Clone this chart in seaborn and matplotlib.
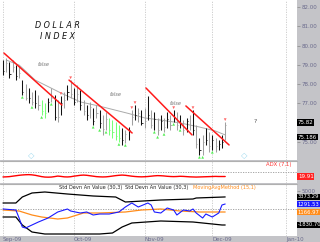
import numpy as np
import pandas as pd
import matplotlib
matplotlib.use("Agg")
import matplotlib.pyplot as plt
import seaborn as sns

sns.set_theme(style="white")
plt.rcParams['font.family'] = ['DejaVu Sans']

# ---------------- data ----------------
dates = pd.bdate_range("2009-09-01", "2009-12-07")
highs = [79.25, 79.35, 79.15, 79.25, 78.99, 78.94, 78.21, 78.01, 77.80, 77.59,
         77.70, 77.44, 77.18, 77.02, 77.28, 77.80, 77.44, 77.18, 77.39, 77.59,
         77.96, 78.21, 77.80, 77.96, 77.70, 77.18, 76.92, 77.08, 76.77, 76.92,
         76.66, 76.40, 76.56, 76.25, 76.14, 76.04, 75.89, 75.73, 75.63, 75.78,
         76.66, 76.92, 76.77, 76.66, 76.77, 77.39, 76.66, 76.56, 76.25, 76.40,
         76.25, 76.56, 76.40, 76.66, 76.56, 76.40, 76.14, 76.25, 76.40, 76.66,
         75.89, 75.21, 75.37, 75.73, 75.52, 75.37, 75.21, 75.11, 75.37, 76.04]
lows = [78.47, 78.63, 78.32, 78.63, 78.21, 78.32, 77.44, 77.18, 77.02, 76.92,
        76.77, 76.66, 76.40, 76.25, 76.56, 77.08, 76.14, 76.04, 76.40, 76.77,
        77.18, 77.28, 76.92, 77.08, 76.66, 76.40, 76.14, 76.25, 75.89, 76.25,
        75.73, 75.37, 75.63, 75.37, 75.21, 75.11, 75.00, 74.85, 74.95, 75.11,
        75.89, 76.14, 76.04, 75.89, 75.73, 76.14, 75.73, 75.63, 75.37, 75.63,
        75.52, 75.73, 75.63, 76.04, 75.63, 75.73, 75.37, 75.52, 75.63, 75.37,
        74.69, 74.33, 74.33, 74.85, 74.49, 74.59, 74.49, 74.59, 74.69, 75.11]
closes = [78.70, 79.10, 78.50, 78.90, 78.40, 78.60, 77.60, 77.30, 77.30, 77.10,
          77.00, 76.90, 76.60, 76.50, 77.10, 77.30, 76.30, 76.30, 77.00, 77.20,
          77.60, 77.50, 77.10, 77.50, 76.90, 76.60, 76.40, 76.80, 76.10, 76.50,
          76.00, 75.70, 76.20, 75.60, 75.50, 75.30, 75.20, 75.10, 75.40, 75.60,
          76.30, 76.40, 76.50, 76.00, 76.10, 76.40, 75.90, 76.20, 75.60, 76.10,
          75.80, 76.20, 75.90, 76.30, 75.90, 76.00, 75.60, 76.10, 75.90, 75.60,
          74.90, 74.60, 75.00, 75.10, 74.80, 75.10, 74.80, 74.90, 75.00, 75.90]
bar_kind = (["k", "g"] * 6 + ["l", "l"] + ["k", "g"] * 8 + ["k", "g", "g", "l", "l", "l", "l"]
            + ["k", "g"] * 14 + ["k", "g", "k", "k", "g", "k", "g", "g", "k", "k", "k", "g", "k", "k"])
bar_kind = bar_kind[:70]

ma_idx = [1, 5, 10, 18, 24, 30, 39, 44, 49, 55, 61, 66, 69]
ma_val = [79.25, 78.99, 78.21, 77.54, 77.08, 76.86, 76.48, 76.25, 76.14, 75.99, 75.78, 75.57, 75.37]

trend_x0 = [0.3, 20.5, 44.4, 56.8]
trend_y0 = [79.61, 78.21, 77.80, 76.87]
trend_x1 = [18.3, 40.1, 58.7, 70.2]
trend_y1 = [76.92, 75.47, 75.37, 74.85]

up_arrows = [6, 9, 12, 15, 28, 30, 32, 36, 38, 47, 48, 50, 53, 55, 61, 62, 65]
down_arrows = [18, 21, 40, 41, 53, 59, 69]

false_x = [10.9, 33.2, 51.9]
false_y = [79.04, 77.44, 77.02]

adx = [19.5, 19.6, 19.8, 20.2, 20.6, 21.0, 21.3, 21.5, 21.6, 21.4, 21.0, 20.4, 19.8,
       19.4, 19.3, 19.4, 19.8, 20.3, 20.0, 19.6, 19.5, 19.7, 20.2, 20.6, 21.0, 21.2,
       21.0, 20.6, 20.2, 19.8, 19.6, 19.5, 19.6, 19.9, 20.3, 20.7, 21.0, 21.2, 21.0,
       20.6, 20.2, 19.9, 19.7, 19.6, 19.7, 19.9, 20.2, 20.5, 20.7, 20.6, 20.4, 20.1,
       19.9, 19.8, 19.9, 20.1, 20.0, 19.8, 19.6, 19.5, 19.4, 19.5, 19.6, 19.7, 19.8,
       19.9, 20.0, 19.9, 19.9, 19.9]

upper_idx = [0, 4, 6, 9, 13, 20, 28, 35, 38, 49, 59, 60, 69]
upper_band = [1680, 1680, 3360, 4480, 4760, 4200, 3640, 3360, 1960, 2520, 2800, 3080, 3373]
lower_idx = [0, 4, 6, 9, 13, 20, 30, 34, 37, 40, 49, 59, 68, 69]
lower_band = [-2240, -2240, -4480, -6440, -7000, -7000, -7000, -6720, -5040, -3920, -3360, -3640, -4480, -4480]
orange_idx = [0, 5, 9, 12, 17, 20, 25, 30, 38, 43, 49, 55, 61, 69]
orange_val = [-280, -560, -1680, -2240, -2800, -2520, -1120, -1120, -840, -280, 0, -560, -840, -840]
blue_idx = [0, 4, 5, 6, 7, 9, 11, 14, 17, 19, 20, 21, 24, 26, 28, 30, 33, 36, 38, 40, 42, 45,
            46, 47, 49, 51, 53, 54, 56, 58, 59, 60, 62, 63, 65, 67, 68, 69]
blue_val = [0, -280, -2520, -5040, -5320, -4480, -3640, -2520, -840, -280, 0, -560, -1120, -840,
            -1680, -1400, -1400, -840, 560, 1680, 560, 1680, 1120, -840, -1120, 280, -280, -1680,
            -280, -560, 0, -1120, -2520, -1400, -2240, -1120, 1120, 1400]

month_pos = [0, 22, 44, 65, 88]
month_lab = ["Sep-09", "Oct-09", "Nov-09", "Dec-09", "Jan-10"]
price_ticks = [75, 77, 78, 79, 80, 81, 82]

# ---------------- layout ----------------
W, H = 320, 242
fig = plt.figure(figsize=(W / 100, H / 100), dpi=100, facecolor="#c4c4c8")

def rect(x0, y0, x1, y1):
    return [x0 / W, 1 - y1 / H, (x1 - x0) / W, (y1 - y0) / H]

XMIN, XMAX = -0.93, 91.3
ax = fig.add_axes(rect(0, 0, 297, 160))
ax2 = fig.add_axes(rect(0, 161, 297, 183))
ax3 = fig.add_axes(rect(0, 184, 297, 236))
tick_col = "#6a6a8c"
for a in (ax, ax2, ax3):
    a.set_facecolor("white")
    a.set_xlim(XMIN, XMAX)
    for s in a.spines.values():
        s.set_visible(False)
    a.set_xticks([])
    for p in month_pos:
        a.axvline(p, color="#c8c8c8", lw=0.6, ls=(0, (1.5, 1.5)), zorder=0)
    a.tick_params(axis="y", which="both", right=True, left=False, labelright=True, labelleft=False,
                  length=2, width=0.5, color="#888888", labelsize=4, labelcolor=tick_col, pad=1)

# ---------------- price panel ----------------
ax.set_ylim(74.07, 82.36)
ax.set_yticks(price_ticks)
ax.set_yticklabels([f"{v:.2f}" for v in price_ticks])
x = np.arange(len(highs))
col_map = {"k": "#111111", "g": "#a0a0a0", "l": "#77ff77"}
cols = [col_map[k] for k in bar_kind]
ax.vlines(x, lows, highs, colors=cols, lw=0.75, zorder=3)
ax.hlines(closes, x, x + 0.35, colors=cols, lw=0.6, zorder=3)

df_ma = pd.DataFrame({"x": ma_idx, "y": ma_val})
sns.lineplot(data=df_ma, x="x", y="y", ax=ax, color="#aaaaaa", lw=0.7, zorder=2)
for a0, b0, a1, b1 in zip(trend_x0, trend_y0, trend_x1, trend_y1):
    ax.plot([a0, a1], [b0, b1], color="#ff1a1a", lw=1.1, zorder=4)

df_up = pd.DataFrame({"x": up_arrows, "y": [lows[i] - 0.12 for i in up_arrows]})
sns.scatterplot(data=df_up, x="x", y="y", ax=ax, marker="^", s=4, color="#55ee55", edgecolor="none", zorder=5)
df_dn = pd.DataFrame({"x": down_arrows, "y": [highs[i] + 0.12 for i in down_arrows]})
sns.scatterplot(data=df_dn, x="x", y="y", ax=ax, marker="v", s=4, color="#ff6666", edgecolor="none", zorder=5)

for fx, fy in zip(false_x, false_y):
    ax.text(fx, fy, "false", fontsize=3.6, color="#777777", style="italic", ha="left", va="center")
ax.text(78.3, 76.09, "?", fontsize=4.5, color="#555555", ha="center", va="center")
ax.text(16.9, 81.06, "D O L L A R", fontsize=5.8, style="italic", color="#111111", ha="center", va="center")
ax.text(16.9, 80.48, "I N D E X", fontsize=5.8, style="italic", color="#111111", ha="center", va="center")
for dx in (8.8, 74.8):
    ax.text(dx, 74.28, "\u25c7", fontsize=6, color="#99d8ee", ha="center", va="center")
ax.set_xlabel("")
ax.set_ylabel("")
for v, t in ((76.02, "75.82"), (75.26, "75.186")):
    ax.text(1.003, (v - 74.07) / (82.36 - 74.07), t, transform=ax.transAxes, fontsize=4, color="white",
            ha="left", va="center", bbox=dict(boxstyle="square,pad=0.15", fc="black", ec="none"))

# ---------------- ADX panel ----------------
ax2.set_ylim(14, 34)
ax2.set_yticks([])
ax2.axhline(24, color="#999999", lw=0.6, ls=(0, (1.5, 1.5)), zorder=1)
df_adx = pd.DataFrame({"x": x, "y": adx})
sns.lineplot(data=df_adx, x="x", y="y", ax=ax2, color="#ff0000", lw=1.0)
ax2.set_xlabel(""); ax2.set_ylabel("")
ax2.text(0.98, 0.95, "ADX (7,1)", transform=ax2.transAxes, fontsize=3.8, color="#ff3333", ha="right", va="top")
ax2.text(1.003, (19.91 - 14) / 20, "19.91", transform=ax2.transAxes, fontsize=4, color="white",
         ha="left", va="center", bbox=dict(boxstyle="square,pad=0.15", fc="#ff2222", ec="none"))

# ---------------- std panel ----------------
ax3.set_ylim(-7560, 7000)
ax3.set_yticks([5000])
ax3.set_yticklabels(["5000"])
ax3.axhline(0, color="#999999", lw=0.6, ls=(0, (1.5, 1.5)), zorder=1)
sns.lineplot(x=upper_idx, y=upper_band, ax=ax3, color="#000000", lw=0.9)
sns.lineplot(x=lower_idx, y=lower_band, ax=ax3, color="#000000", lw=0.9)
sns.lineplot(x=orange_idx, y=orange_val, ax=ax3, color="#ff8c1a", lw=0.9)
sns.lineplot(x=blue_idx, y=blue_val, ax=ax3, color="#1a1aff", lw=0.8)
ax3.set_xlabel(""); ax3.set_ylabel("")
ax3.text(17.5, 5900, "Std Devn An Value (30,3)", fontsize=3.6, color="#222222", ha="left", va="center")
ax3.text(38.0, 5900, "Std Devn An Value (30,3)", fontsize=3.6, color="#222222", ha="left", va="center")
ax3.text(59.0, 5900, "MovingAvgMethod (15,1)", fontsize=3.6, color="#ff8c1a", ha="left", va="center")
for v, t, c in ((3373, "3373.29", "black"), (1400, "1291.53", "#1a1aff"),
                (-840, "1166.97", "#ff8c1a"), (-4480, "-1830.70", "black")):
    ax3.text(1.003, (v + 7560) / 14560, t, transform=ax3.transAxes, fontsize=3.8, color="white",
             ha="left", va="center", bbox=dict(boxstyle="square,pad=0.15", fc=c, ec="none"))

# separators
for yy in (160.5, 183.5):
    fig.add_artist(plt.Line2D([0, 297 / W], [1 - yy / H] * 2, color="#b0b0b0", lw=0.8))

# month labels
for p, lab in zip(month_pos, month_lab):
    xf = (p - XMIN) / (XMAX - XMIN) * 297 / W
    fig.text(xf, 1 - 239.5 / H, lab, fontsize=4, color=tick_col, ha="left", va="center")

fig.savefig("out.png", dpi=100, facecolor=fig.get_facecolor())
